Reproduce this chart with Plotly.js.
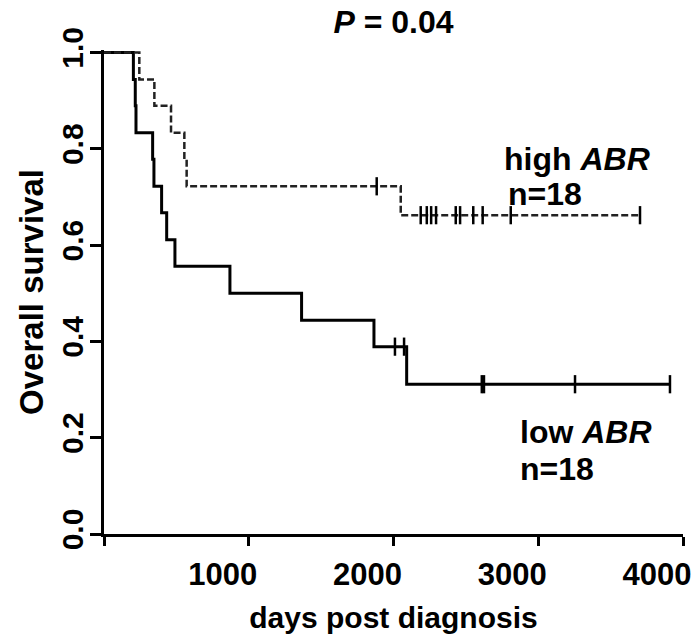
<!DOCTYPE html>
<html>
<head>
<meta charset="utf-8">
<script src="https://cdn.plot.ly/plotly-3.0.1.min.js"></script>
<style>html,body{margin:0;padding:0;background:#fff;}#chart{width:696px;height:639px;}</style>
</head>
<body>
<div id="chart"></div>
<script>
// Low ABR (solid) — step times (days) and survival after each step
const lowTimes = [0, 203, 216, 221, 336, 345, 398, 433, 490, 870, 1365, 1865, 2091];
const lowSurv  = [1.0, 0.944, 0.889, 0.833, 0.778, 0.722, 0.667, 0.611, 0.556, 0.5, 0.444, 0.389, 0.311];
const lowEnd = 3910;
const lowCensorTimes = [2010, 2073, 2610, 2625, 3254, 3910];
const lowCensorSurv  = [0.389, 0.389, 0.311, 0.311, 0.311, 0.311];

// High ABR (dashed)
const highTimes = [0, 244, 348, 463, 555, 571, 2050];
const highSurv  = [1.0, 0.944, 0.889, 0.833, 0.778, 0.722, 0.662];
const highEnd = 3703;
const highCensorTimes = [1884, 2188, 2230, 2260, 2294, 2430, 2460, 2551, 2616, 2810, 3703];
const highCensorSurv  = [0.722, 0.662, 0.662, 0.662, 0.662, 0.662, 0.662, 0.662, 0.662, 0.662, 0.662];

const xTicks = [0, 1000, 2000, 3000, 4000];
const xTickText = ['', '1000', '2000', '3000', '4000'];
const yTicks = [0, 0.2, 0.4, 0.6, 0.8, 1.0];
const yTickText = ['0.0', '0.2', '0.4', '0.6', '0.8', '1.0'];

const FONT = 'Liberation Sans, Arial, sans-serif';

const traces = [
  {x: lowTimes.concat([lowEnd]), y: lowSurv.concat([lowSurv[lowSurv.length-1]]), mode: 'lines',
   line: {shape: 'hv', color: '#000', width: 3}, hoverinfo: 'skip'},
  {x: highTimes.concat([highEnd]), y: highSurv.concat([highSurv[highSurv.length-1]]), mode: 'lines',
   line: {shape: 'hv', color: '#222', width: 2.5, dash: '7px,3px'}, hoverinfo: 'skip'},
  {x: lowCensorTimes, y: lowCensorSurv, mode: 'markers',
   marker: {symbol: 'line-ns', size: 13, line: {color: '#000', width: 2.5}}, hoverinfo: 'skip'},
  {x: highCensorTimes, y: highCensorSurv, mode: 'markers',
   marker: {symbol: 'line-ns', size: 13, line: {color: '#000', width: 2.5}}, hoverinfo: 'skip'}
];

const layout = {
  width: 696, height: 639,
  margin: {l: 104, r: 13, t: 50, b: 105},
  showlegend: false,
  paper_bgcolor: '#fff', plot_bgcolor: '#fff',
  font: {family: FONT, color: '#000'},
  title: {text: '<i>P</i> = 0.04', font: {family: FONT, size: 32, weight: 'bold', color: '#000'},
          x: 0.5, xref: 'paper', y: 1 - 22/639, yref: 'container', yanchor: 'middle'},
  xaxis: {range: [0, 4000], tickvals: xTicks, ticktext: xTickText, ticks: 'outside', ticklen: 9, tickwidth: 3,
          tickcolor: '#000', showline: true, linecolor: '#000', linewidth: 3, showgrid: false, zeroline: false,
          tickfont: {family: FONT, size: 31, weight: 'bold'}, ticklabelshift: -26, ticklabeloverflow: 'allow',
          ticklabelstandoff: 2,
          title: {text: 'days post diagnosis', font: {family: FONT, size: 30, weight: 'bold'}, standoff: 16}},
  yaxis: {range: [0, 1.005], tickvals: yTicks, ticktext: yTickText, ticks: 'outside', ticklen: 11, tickwidth: 3,
          tickcolor: '#000', showline: true, linecolor: '#000', linewidth: 3, showgrid: false, zeroline: false,
          tickangle: -90, tickfont: {family: FONT, size: 30, weight: 'bold'}, ticklabelstandoff: -5,
          title: {text: 'Overall survival', font: {family: FONT, size: 33, weight: 'bold'}, standoff: 3}},
  annotations: [
    {x: 2750, y: 0.779, xref: 'x', yref: 'y', xanchor: 'left', yanchor: 'middle', showarrow: false,
     text: 'high <i>ABR</i>', font: {family: FONT, size: 32, weight: 'bold', color: '#000'}},
    {x: 2780, y: 0.707, xref: 'x', yref: 'y', xanchor: 'left', yanchor: 'middle', showarrow: false,
     text: 'n=18', font: {family: FONT, size: 32, weight: 'bold', color: '#000'}},
    {x: 2860, y: 0.211, xref: 'x', yref: 'y', xanchor: 'left', yanchor: 'middle', showarrow: false,
     text: 'low <i>ABR</i>', font: {family: FONT, size: 32, weight: 'bold', color: '#000'}},
    {x: 2860, y: 0.136, xref: 'x', yref: 'y', xanchor: 'left', yanchor: 'middle', showarrow: false,
     text: 'n=18', font: {family: FONT, size: 32, weight: 'bold', color: '#000'}}
  ]
};

Plotly.newPlot('chart', traces, layout, {staticPlot: true, displayModeBar: false});
</script>
</body>
</html>
